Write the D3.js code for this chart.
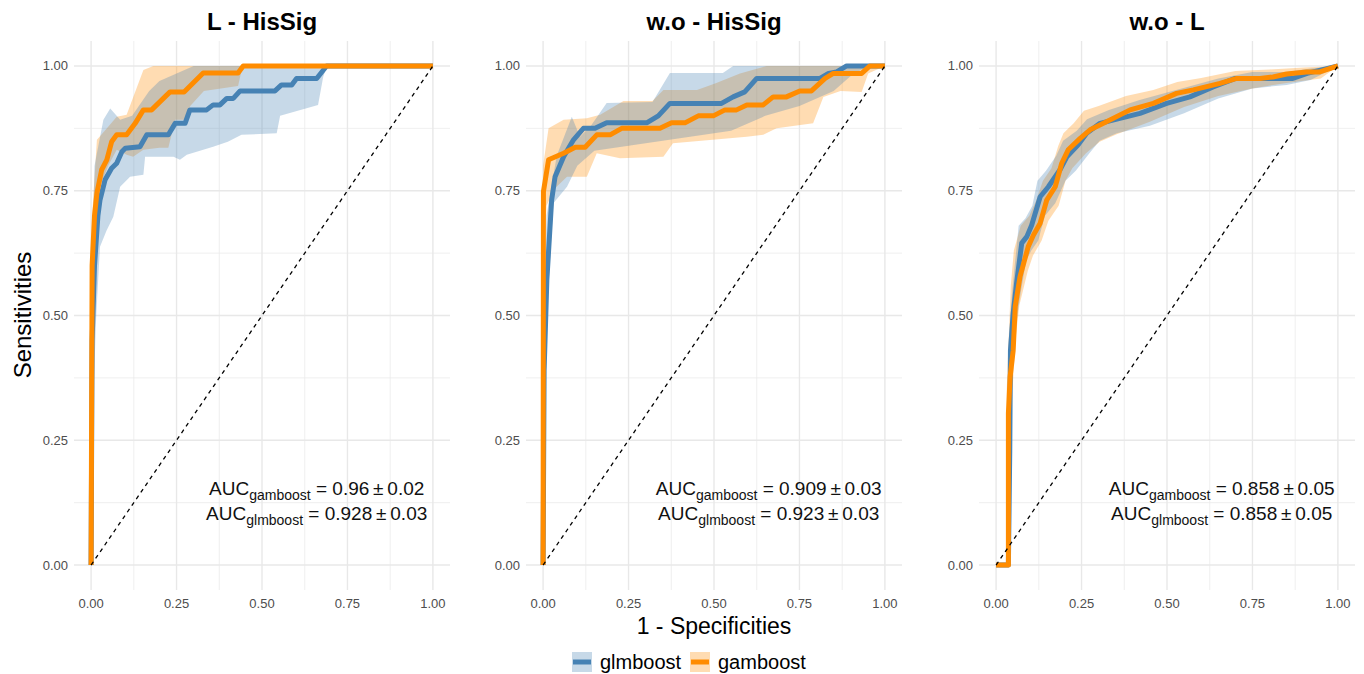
<!DOCTYPE html>
<html>
<head>
<meta charset="utf-8">
<script src="https://cdn.jsdelivr.net/npm/d3@7"></script>
<style>
  body { margin: 0; background: #fff; }
  svg { font-family: "Liberation Sans", Arial, sans-serif; }
</style>
</head>
<body>
<div id="chart"></div>
<script>
// panel titles and AUC labels
var panelTitles = ["L - HisSig", "w.o - HisSig", "w.o - L"];
var aucGam = ["0.96", "0.909", "0.858"];
var aucGamSd = ["0.02", "0.03", "0.05"];
var aucGlm = ["0.928", "0.923", "0.858"];
var aucGlmSd = ["0.03", "0.03", "0.05"];
var tickValues = [0, 0.25, 0.5, 0.75, 1];
var seriesNames = ["glmboost", "gamboost"];

// ROC curves: [1 - specificity, sensitivity]
var glmLine1 = [[0,0],[0.003,0.45],[0.01,0.6],[0.02,0.7],[0.026,0.731],[0.041,0.772],[0.06,0.795],[0.075,0.805],[0.09,0.828],[0.1,0.835],[0.143,0.838],[0.163,0.862],[0.226,0.862],[0.246,0.885],[0.275,0.885],[0.289,0.912],[0.338,0.912],[0.357,0.922],[0.377,0.922],[0.397,0.935],[0.416,0.935],[0.436,0.95],[0.538,0.95],[0.557,0.962],[0.587,0.962],[0.601,0.975],[0.66,0.975],[0.689,1],[1,1]];
var glmLow1 = [[0,0],[0.005,0.3],[0.015,0.5],[0.026,0.638],[0.045,0.67],[0.065,0.698],[0.085,0.758],[0.114,0.778],[0.153,0.782],[0.158,0.818],[0.241,0.818],[0.26,0.812],[0.28,0.822],[0.357,0.838],[0.4,0.848],[0.44,0.862],[0.543,0.865],[0.553,0.9],[0.664,0.922],[0.679,0.978],[0.69,1],[1,1]];
var glmHigh1 = [[0,0],[0.003,0.6],[0.01,0.8],[0.036,0.892],[0.056,0.915],[0.085,0.892],[0.12,0.9],[0.17,0.95],[0.2,0.97],[0.25,0.985],[0.3,1],[1,1]];
var gamLine1 = [[0,0],[0.003,0.6],[0.01,0.7],[0.017,0.745],[0.031,0.792],[0.046,0.812],[0.06,0.848],[0.075,0.862],[0.104,0.862],[0.129,0.885],[0.153,0.912],[0.177,0.912],[0.231,0.948],[0.272,0.948],[0.328,0.986],[0.43,0.986],[0.445,1],[1,1]];
var gamLow1 = [[0,0],[0.005,0.45],[0.015,0.65],[0.026,0.758],[0.05,0.8],[0.075,0.832],[0.104,0.822],[0.123,0.818],[0.153,0.832],[0.2,0.836],[0.226,0.836],[0.246,0.892],[0.275,0.892],[0.29,0.92],[0.33,0.95],[0.43,0.96],[0.44,0.99],[0.445,1],[1,1]];
var gamHigh1 = [[0,0],[0.003,0.7],[0.017,0.852],[0.04,0.87],[0.075,0.898],[0.104,0.902],[0.153,0.992],[0.182,1],[1,1]];

var glmLine2 = [[0,0],[0.003,0.39],[0.011,0.571],[0.025,0.731],[0.035,0.778],[0.06,0.818],[0.089,0.852],[0.118,0.875],[0.152,0.875],[0.186,0.886],[0.303,0.886],[0.337,0.9],[0.371,0.925],[0.522,0.925],[0.556,0.938],[0.59,0.948],[0.625,0.975],[0.81,0.975],[0.835,0.985],[0.859,0.988],[0.888,1],[1,1]];
var glmLow2 = [[0,0],[0.005,0.3],[0.015,0.55],[0.03,0.725],[0.07,0.758],[0.1,0.8],[0.15,0.83],[0.25,0.84],[0.4,0.855],[0.55,0.87],[0.65,0.9],[0.75,0.92],[0.85,0.95],[0.9,0.98],[0.95,1],[1,1]];
var glmHigh2 = [[0,0],[0.002,0.5],[0.01,0.7],[0.04,0.82],[0.084,0.898],[0.108,0.858],[0.14,0.88],[0.186,0.926],[0.32,0.928],[0.371,0.986],[0.526,0.986],[0.556,1],[1,1]];
var gamLine2 = [[0,0],[0.001,0.748],[0.016,0.812],[0.06,0.825],[0.094,0.837],[0.123,0.837],[0.157,0.862],[0.196,0.862],[0.23,0.875],[0.342,0.875],[0.376,0.886],[0.415,0.886],[0.454,0.9],[0.498,0.9],[0.532,0.912],[0.566,0.912],[0.596,0.922],[0.644,0.922],[0.673,0.938],[0.712,0.938],[0.751,0.95],[0.785,0.95],[0.825,0.975],[0.849,0.985],[0.932,0.985],[0.956,1],[1,1]];
var gamLow2 = [[0,0],[0.002,0.6],[0.01,0.72],[0.035,0.755],[0.07,0.778],[0.128,0.778],[0.157,0.825],[0.225,0.815],[0.352,0.818],[0.38,0.845],[0.596,0.858],[0.644,0.862],[0.683,0.875],[0.79,0.885],[0.82,0.938],[0.87,0.95],[0.932,0.948],[0.951,0.985],[1,1]];
var gamHigh2 = [[0,0],[0,0.8],[0.016,0.875],[0.06,0.892],[0.128,0.895],[0.167,0.902],[0.235,0.93],[0.32,0.93],[0.352,0.952],[0.45,0.952],[0.503,0.965],[0.576,0.985],[0.654,1],[1,1]];

var glmLine3 = [[0,0],[0.036,0],[0.04,0.23],[0.042,0.43],[0.05,0.504],[0.06,0.565],[0.075,0.645],[0.09,0.658],[0.104,0.681],[0.129,0.738],[0.153,0.758],[0.187,0.792],[0.207,0.818],[0.24,0.842],[0.265,0.865],[0.304,0.885],[0.333,0.89],[0.421,0.905],[0.499,0.925],[0.567,0.938],[0.635,0.958],[0.7,0.975],[0.868,0.975],[0.91,0.985],[1,1]];
var glmLow3 = [[0.036,0],[0.042,0.2],[0.048,0.4],[0.062,0.5],[0.073,0.55],[0.088,0.61],[0.103,0.63],[0.123,0.65],[0.143,0.7],[0.173,0.725],[0.203,0.77],[0.233,0.79],[0.273,0.825],[0.303,0.85],[0.353,0.865],[0.45,0.88],[0.55,0.905],[0.65,0.935],[0.75,0.955],[0.85,0.962],[0.92,0.972],[1,1]];
var glmHigh3 = [[0.036,0],[0.034,0.3],[0.037,0.45],[0.046,0.54],[0.056,0.61],[0.066,0.68],[0.086,0.695],[0.106,0.72],[0.121,0.77],[0.146,0.79],[0.176,0.82],[0.196,0.85],[0.236,0.87],[0.266,0.893],[0.33,0.912],[0.42,0.932],[0.5,0.947],[0.57,0.96],[0.65,0.975],[0.75,0.988],[0.85,0.988],[0.92,0.995],[1,1]];
var gamLine3 = [[0,0],[0.036,0],[0.036,0.304],[0.041,0.377],[0.05,0.43],[0.056,0.518],[0.07,0.578],[0.094,0.638],[0.109,0.661],[0.129,0.685],[0.148,0.731],[0.173,0.758],[0.192,0.805],[0.211,0.832],[0.246,0.855],[0.275,0.872],[0.314,0.885],[0.392,0.912],[0.46,0.925],[0.528,0.945],[0.577,0.952],[0.655,0.965],[0.704,0.975],[0.772,0.975],[0.81,0.978],[0.85,0.984],[0.908,0.988],[0.947,0.988],[1,1]];
var gamLow3 = [[0.036,0],[0.042,0.25],[0.048,0.35],[0.058,0.46],[0.068,0.52],[0.093,0.59],[0.108,0.62],[0.133,0.65],[0.153,0.69],[0.183,0.72],[0.203,0.77],[0.223,0.795],[0.263,0.825],[0.303,0.848],[0.353,0.863],[0.45,0.888],[0.55,0.918],[0.65,0.94],[0.75,0.955],[0.85,0.966],[0.95,0.975],[1,1]];
var gamHigh3 = [[0.036,0],[0.031,0.35],[0.035,0.42],[0.043,0.56],[0.052,0.63],[0.072,0.68],[0.097,0.7],[0.117,0.73],[0.137,0.77],[0.162,0.795],[0.182,0.84],[0.197,0.865],[0.227,0.885],[0.257,0.91],[0.3,0.92],[0.38,0.94],[0.46,0.952],[0.53,0.968],[0.6,0.976],[0.7,0.99],[0.8,0.993],[0.9,0.997],[1,1]];

var panelData = [
    { glm: glmLine1, glmLow: glmLow1, glmHigh: glmHigh1, gam: gamLine1, gamLow: gamLow1, gamHigh: gamHigh1 },
    { glm: glmLine2, glmLow: glmLow2, glmHigh: glmHigh2, gam: gamLine2, gamLow: gamLow2, gamHigh: gamHigh2 },
    { glm: glmLine3, glmLow: glmLow3, glmHigh: glmHigh3, gam: gamLine3, gamLow: gamLow3, gamHigh: gamHigh3 }
];

var width = 1364, height = 674;
var blue = "steelblue", orange = "darkorange";
var panelLeft = [74, 526, 979], panelWidth = 376,
    panelTop = 41, panelBottom = 590;

var svg = d3.select("#chart").append("svg")
    .attr("width", width)
    .attr("height", height);

panelData.forEach(function(p, i) {
    var x = d3.scaleLinear()
        .domain([-0.05, 1.05])
        .range([panelLeft[i], panelLeft[i] + panelWidth]);
    var y = d3.scaleLinear()
        .domain([-0.05, 1.05])
        .range([panelBottom, panelTop]);

    var g = svg.append("g");

    // grid, minor first
    var minor = [0.125, 0.375, 0.625, 0.875];
    g.selectAll(".vminor").data(minor).enter().append("line")
        .attr("x1", d => x(d)).attr("x2", d => x(d))
        .attr("y1", panelTop).attr("y2", panelBottom)
        .attr("stroke", "#ebebeb").attr("stroke-width", 0.8);
    g.selectAll(".hminor").data(minor).enter().append("line")
        .attr("y1", d => y(d)).attr("y2", d => y(d))
        .attr("x1", panelLeft[i]).attr("x2", panelLeft[i] + panelWidth)
        .attr("stroke", "#ebebeb").attr("stroke-width", 0.8);
    g.selectAll(".vmajor").data(tickValues).enter().append("line")
        .attr("x1", d => x(d)).attr("x2", d => x(d))
        .attr("y1", panelTop).attr("y2", panelBottom)
        .attr("stroke", "#e8e8e8").attr("stroke-width", 1.4);
    g.selectAll(".hmajor").data(tickValues).enter().append("line")
        .attr("y1", d => y(d)).attr("y2", d => y(d))
        .attr("x1", panelLeft[i]).attr("x2", panelLeft[i] + panelWidth)
        .attr("stroke", "#e8e8e8").attr("stroke-width", 1.4);

    // tick labels
    g.selectAll(".xlab").data(tickValues).enter().append("text")
        .attr("x", d => x(d)).attr("y", 608)
        .attr("text-anchor", "middle")
        .attr("font-size", 13).attr("fill", "#4d4d4d")
        .text(d => d3.format(".2f")(d));
    g.selectAll(".ylab").data(tickValues).enter().append("text")
        .attr("x", panelLeft[i] - 6).attr("y", d => y(d) + 4.5)
        .attr("text-anchor", "end")
        .attr("font-size", 13).attr("fill", "#4d4d4d")
        .text(d => d3.format(".2f")(d));

    // title
    g.append("text")
        .attr("x", panelLeft[i] + panelWidth / 2).attr("y", 30)
        .attr("text-anchor", "middle")
        .attr("font-size", 24).attr("font-weight", "bold")
        .text(panelTitles[i]);

    // confidence bands
    var line = d3.line().x(d => x(d[0])).y(d => y(d[1]));
    function band(low, high) {
        return line(low.concat(high.slice().reverse())) + "Z";
    }
    g.append("path").attr("d", band(p.gamLow, p.gamHigh))
        .attr("fill", orange).attr("fill-opacity", 0.3);
    g.append("path").attr("d", band(p.glmLow, p.glmHigh))
        .attr("fill", blue).attr("fill-opacity", 0.3);

    // ROC lines
    g.append("path").attr("d", line(p.glm))
        .attr("fill", "none").attr("stroke", blue)
        .attr("stroke-width", 5).attr("stroke-linejoin", "round");
    g.append("path").attr("d", line(p.gam))
        .attr("fill", "none").attr("stroke", orange)
        .attr("stroke-width", 5).attr("stroke-linejoin", "round");

    // chance diagonal
    g.append("line")
        .attr("x1", x(0)).attr("y1", y(0))
        .attr("x2", x(1)).attr("y2", y(1))
        .attr("stroke", "black").attr("stroke-width", 1.3)
        .attr("stroke-dasharray", "4,4");

    // AUC annotation
    var labels = [
        { y: 0.14, sub: "gamboost", v: aucGam[i], sd: aucGamSd[i] },
        { y: 0.09, sub: "glmboost", v: aucGlm[i], sd: aucGlmSd[i] }
    ];
    labels.forEach(function(l) {
        var t = g.append("text")
            .attr("x", x(0.66)).attr("y", y(l.y))
            .attr("text-anchor", "middle")
            .attr("font-size", 19).attr("fill", "#111");
        t.append("tspan").text("AUC");
        t.append("tspan").attr("font-size", 14).attr("dy", 5).text(l.sub);
        t.append("tspan").attr("dy", -5).text(" = " + l.v + "\u2009\u00b1\u2009" + l.sd);
    });
});

// axis titles
svg.append("text")
    .attr("x", 714).attr("y", 634)
    .attr("text-anchor", "middle")
    .attr("font-size", 23)
    .text("1 - Specificities");

svg.append("text")
    .attr("transform", "translate(31,315) rotate(-90)")
    .attr("text-anchor", "middle")
    .attr("font-size", 24)
    .text("Sensitivities");

// legend
var legendX = [572, 690];
var legendColor = [blue, orange];
seriesNames.forEach(function(name, i) {
    var lg = svg.append("g").attr("transform", "translate(" + legendX[i] + ",652)");
    lg.append("rect").attr("width", 20).attr("height", 20)
        .attr("fill", legendColor[i]).attr("fill-opacity", 0.3);
    lg.append("line").attr("x1", 1).attr("x2", 19).attr("y1", 10).attr("y2", 10)
        .attr("stroke", legendColor[i]).attr("stroke-width", 5);
    lg.append("text").attr("x", 28).attr("y", 17)
        .attr("font-size", 20).text(name);
});
</script>
</body>
</html>
